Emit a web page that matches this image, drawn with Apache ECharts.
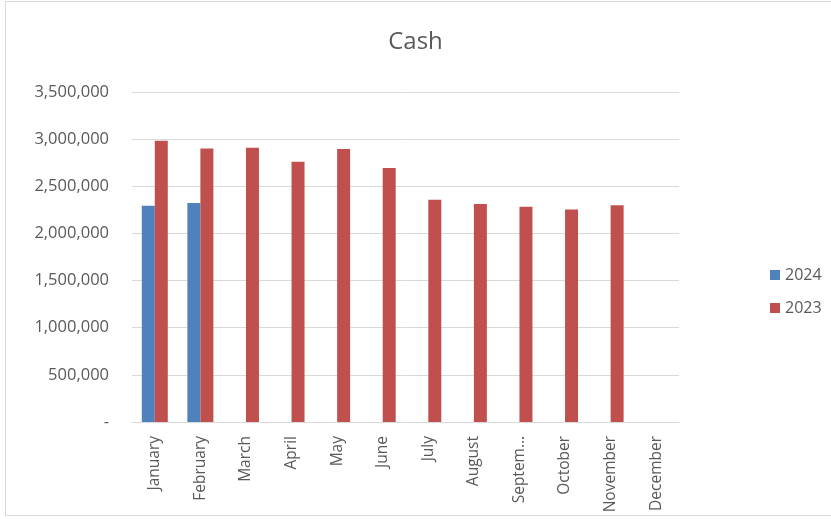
<!DOCTYPE html>
<html>
<head>
<meta charset="utf-8">
<script src="https://cdn.jsdelivr.net/npm/echarts@6/dist/echarts.min.js"></script>
<style>
html,body{margin:0;padding:0;background:#fff;}
#frame{position:absolute;left:5px;top:1px;width:840px;height:515px;border:1px solid #D9D9D9;box-sizing:border-box;}
#chart{position:absolute;left:0;top:0;width:831px;height:519px;}
</style>
</head>
<body>
<div id="frame"></div>
<div id="chart"></div>
<script>
const categories = ['January','February','March','April','May','June','July','August','September','October','November','December'];
const values2024 = [2293000, 2322000, null, null, null, null, null, null, null, null, null, null];
const values2023 = [2983000, 2901000, 2909000, 2760000, 2895000, 2693000, 2357000, 2311000, 2282000, 2254000, 2300000, null];
const yMin = 0, yMax = 3500000, yStep = 500000;

const chart = echarts.init(document.getElementById('chart'));
const font = '"Open Sans", "Noto Sans", sans-serif';
chart.setOption({
  animation: false,
  textStyle: {fontFamily: font},
  title: {
    text: 'Cash', left: 'center', top: 25,
    textStyle: {fontFamily: font, fontSize: 24, fontWeight: 'normal', color: '#595959'}
  },
  legend: {
    orient: 'vertical', left: 765, top: 262, itemWidth: 10, itemHeight: 10, itemGap: 17,
    icon: 'rect',
    textStyle: {fontFamily: font, fontSize: 16, color: '#595959'},
    data: ['2024','2023']
  },
  grid: {left: 132, right: 152, top: 92, bottom: 97, containLabel: false},
  xAxis: {
    type: 'category', data: categories,
    axisLine: {lineStyle: {color: '#D9D9D9'}},
    axisTick: {show: false},
    axisLabel: {
      rotate: 90, margin: 14, fontSize: 15.5, color: '#595959', fontFamily: font,
      formatter: v => v === 'September' ? 'Septem…' : v
    }
  },
  yAxis: {
    type: 'value', min: yMin, max: yMax, interval: yStep,
    axisLine: {show: false}, axisTick: {show: false},
    splitLine: {lineStyle: {color: '#D9D9D9'}},
    axisLabel: {
      margin: 23, fontSize: 16.5, color: '#595959', fontFamily: font,
      formatter: v => v === 0 ? '-' : v.toLocaleString('en-US')
    }
  },
  series: [
    {name: '2024', type: 'bar', data: values2024, barWidth: 13, barGap: '0%', itemStyle: {color: '#4F81BD'}},
    {name: '2023', type: 'bar', data: values2023, barWidth: 13, barGap: '0%', itemStyle: {color: '#C0504D'}}
  ]
});
</script>
</body>
</html>
